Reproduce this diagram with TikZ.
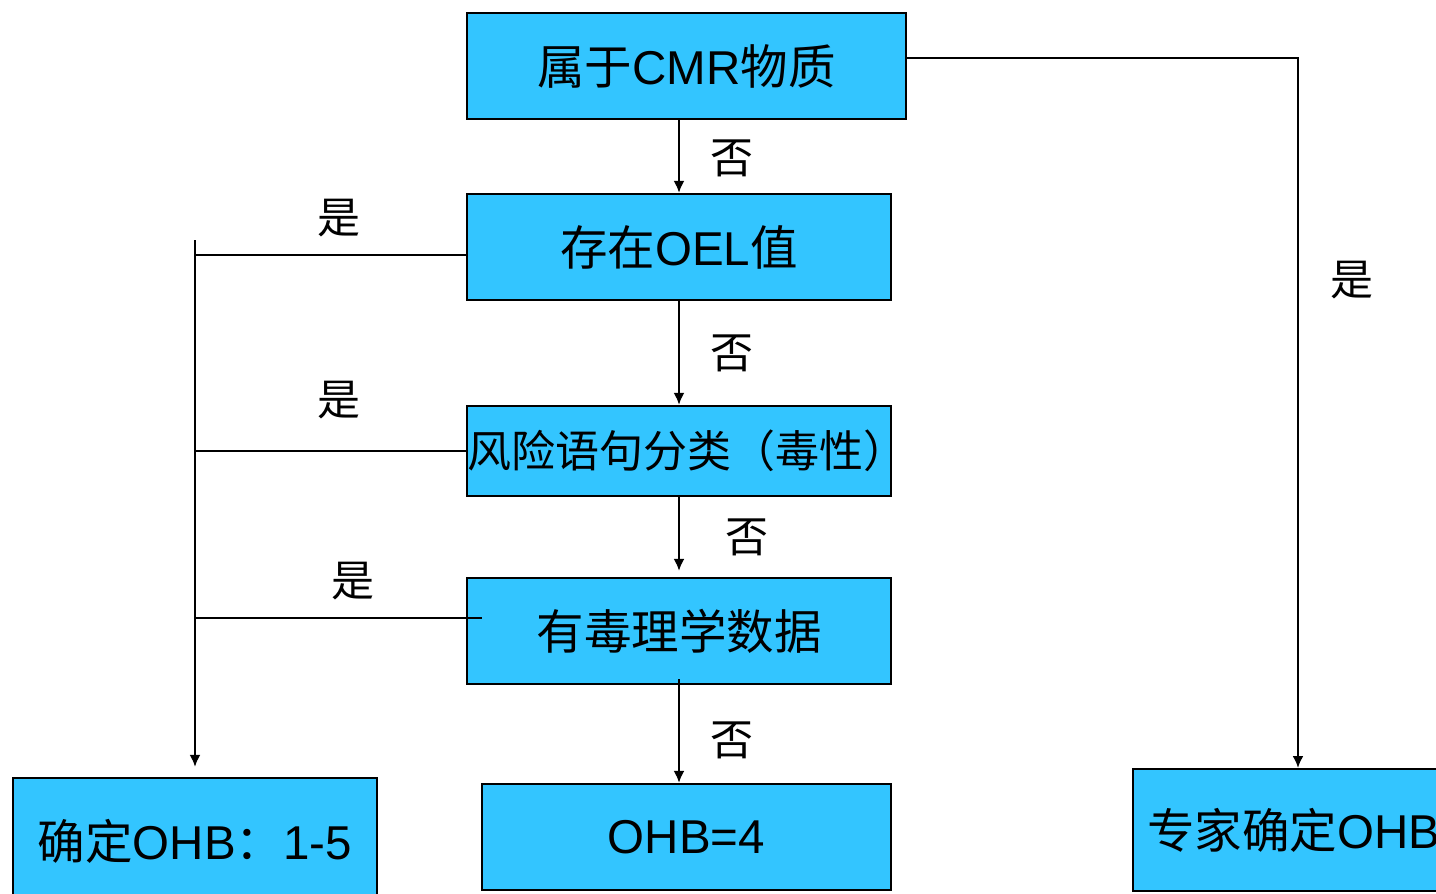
\documentclass[tikz,border=0pt]{standalone}
\usepackage{fontspec}
\setmainfont{Liberation Sans}
\newfontfamily\cjk{Noto Sans CJK SC}
\usetikzlibrary{arrows.meta}
\definecolor{boxfill}{RGB}{51,197,255}
\tikzset{
  box/.style={draw=black, line width=2.2pt, fill=boxfill, inner sep=0pt, font=\fontsize{47.5}{50}\selectfont},
  lbl/.style={inner sep=0pt, font=\cjk\fontsize{43}{46}\selectfont},
  conn/.style={draw=black, line width=2.2pt},
  arr/.style={conn, -{Latex[length=12pt,width=11pt]}}
}
\begin{document}
\begin{tikzpicture}[x=1pt,y=-1pt]
\clip (0,0) rectangle (1436,894);
\fill[white] (0,0) rectangle (1436,894);
% boxes
\node[box, minimum width=439, minimum height=106] (cmr) at (686.5,66) {{\cjk 属于}CMR{\cjk 物质}};
\node[box, minimum width=424, minimum height=106] (oel) at (679,247) {{\cjk 存在}OEL{\cjk 值}};
\node[box, minimum height=90, text width=424, align=center, font=\fontsize{44}{48}\selectfont] (risk) at (679,451) {\cjk 风险语句分类（毒性）};
\node[box, minimum width=424, minimum height=106] (tox) at (679,631) {{\cjk 有毒理学数据}};
\node[box, minimum width=409, minimum height=106] (ohbfour) at (686.5,837) {OHB=4};
\node[box, minimum width=364, minimum height=126] (ohbrange) at (195,841) {{\cjk 确定}OHB{\cjk ：}1-5};
\node[box, anchor=north west, minimum height=122, text width=372, inner xsep=14pt, align=left] (expert) at (1132,768) {{\cjk 专家确定}OHB};
% coordinates
\coordinate (ltop) at (195,240);
\coordinate (lone) at (195,255);
\coordinate (ltwo) at (195,451);
\coordinate (lthree) at (195,618);
\coordinate (rcorner) at (1298,58);
% main chain
\draw[arr] (cmr.south -| oel.north) -- (oel.north);
\draw[arr] (oel.south) -- (risk.north);
\draw[arr, shorten >=6pt] (risk.south) -- (tox.north);
\draw[arr] ([yshift=6pt]tox.south) -- (ohbfour.north -| tox.south);
% left branches
\draw[arr, shorten >=10pt] (ltop) -- (ohbrange.north);
\draw[conn] (lone) -- (lone -| oel.west);
\draw[conn] (ltwo) -- (risk.west);
\draw[conn] (lthree) -- ([xshift=16pt]lthree -| tox.west);
% right branch
\draw[arr] (rcorner -| cmr.east) -- (rcorner) -- (rcorner |- expert.north);
% labels
\node[lbl] (n1) at (732,158) {否};
\node[lbl] (n2) at (732,353) {否};
\node[lbl] (n3) at (747,537) {否};
\node[lbl] (n4) at (732,740) {否};
\node[lbl] (y1) at (339,218) {是};
\node[lbl] (y2) at (339,400) {是};
\node[lbl] (y3) at (353,581) {是};
\node[lbl] (y4) at (1352,280) {是};
\end{tikzpicture}
\end{document}
